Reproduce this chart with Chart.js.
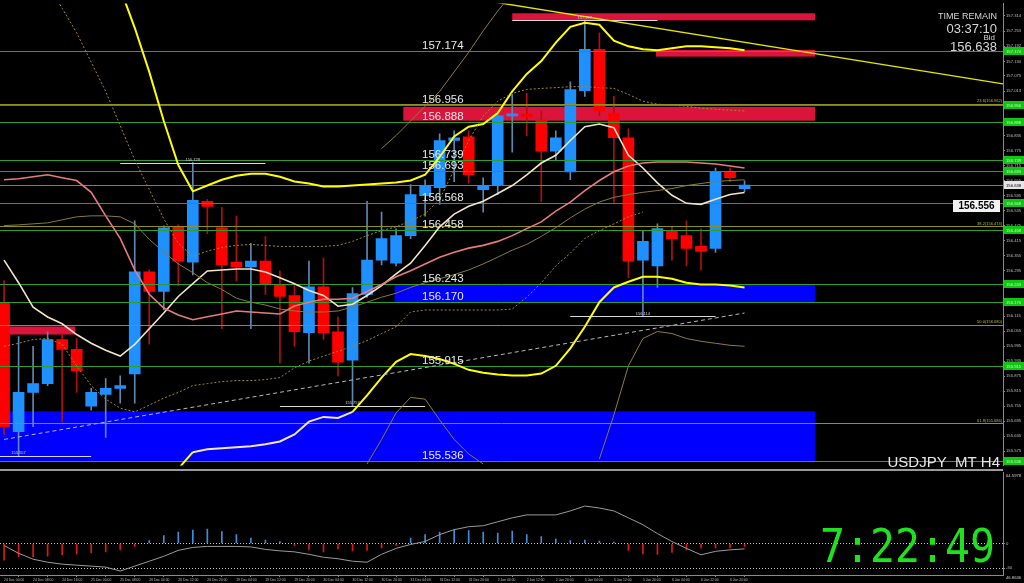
<!DOCTYPE html>
<html>
<head>
<meta charset="utf-8">
<title>USDJPY_MT H4</title>
<script src="https://cdn.jsdelivr.net/npm/chart.js@4.4.1/dist/chart.umd.min.js"></script>
<style>
  html,body{margin:0;padding:0;background:#000;overflow:hidden}
  #wrap{position:relative;width:1024px;height:583px}
  canvas{position:absolute;left:0}
  #main{top:0}
  #osc{top:469px}
</style>
</head>
<body>
<div id="wrap">
  <canvas id="main" width="1024" height="469"></canvas>
  <canvas id="osc" width="1024" height="114"></canvas>
</div>
<script>
// H4 candles, bar 0 = 24 Dec 00:00
const opens  = [156.170,155.653,155.810,155.845,156.021,155.982,155.755,155.802,155.826,155.884,
                156.291,156.213,156.471,156.330,156.573,156.467,156.330,156.311,156.334,156.240,
                156.197,156.048,156.232,156.052,155.939,156.201,156.338,156.326,156.436,156.596,
                156.628,156.816,156.831,156.620,156.640,156.914,156.921,156.898,156.773,156.690,
                157.015,157.180,156.925,156.827,156.338,156.315,156.456,156.436,156.393,156.385,
                156.690,156.624];
const highs  = [156.256,156.033,155.994,156.052,156.045,156.025,155.826,155.865,155.876,156.495,
                156.299,156.475,156.479,156.728,156.581,156.549,156.514,156.405,156.432,156.295,
                156.236,156.334,156.346,156.111,156.229,156.573,156.530,156.463,156.640,156.659,
                156.843,156.855,156.855,156.667,156.921,156.999,157.004,156.933,156.855,157.050,
                157.297,157.246,156.992,156.863,156.455,156.483,156.471,156.495,156.463,156.706,
                156.706,156.655];
const lows   = [155.642,155.557,155.673,155.837,155.692,155.810,155.739,155.630,155.767,155.767,
                156.002,156.139,156.236,156.279,156.444,156.064,156.256,156.064,156.201,155.927,
                155.994,155.927,156.021,155.876,155.757,156.189,156.319,156.315,156.424,156.514,
                156.561,156.651,156.647,156.530,156.600,156.769,156.835,156.573,156.737,156.659,
                156.992,156.914,156.569,156.268,156.114,156.229,156.338,156.315,156.299,156.369,
                156.651,156.612];
const closes = [155.673,155.810,155.845,156.021,155.982,155.896,155.810,155.826,155.837,156.291,
                156.213,156.467,156.334,156.577,156.553,156.319,156.311,156.334,156.240,156.193,
                156.052,156.232,156.048,155.931,156.205,156.338,156.424,156.436,156.600,156.636,
                156.816,156.827,156.679,156.636,156.914,156.921,156.910,156.773,156.827,157.019,
                157.180,156.933,156.827,156.334,156.413,156.464,156.424,156.385,156.373,156.690,
                156.667,156.638];

const creamMA = [156.338,156.248,156.150,156.111,156.084,156.041,156.006,155.978,155.955,156.002,
                 156.064,156.127,156.193,156.244,156.295,156.299,156.303,156.303,156.291,156.268,
                 156.244,156.217,156.197,156.154,156.162,156.197,156.236,156.283,156.326,156.397,
                 156.471,156.522,156.553,156.573,156.604,156.636,156.679,156.726,156.757,156.816,
                 156.871,156.882,156.867,156.757,156.706,156.647,156.597,156.565,156.561,156.581,
                 156.600,156.608];
const pinkMA  = [156.659,156.663,156.671,156.679,156.667,156.656,156.609,156.515,156.425,156.299,
                 156.202,156.147,156.119,156.100,156.112,156.123,156.135,156.131,156.127,156.123,
                 156.155,156.170,156.182,156.182,156.186,156.213,156.241,156.272,156.296,156.323,
                 156.350,156.370,156.386,156.397,156.413,156.436,156.464,156.491,156.534,156.570,
                 156.616,156.656,156.691,156.714,156.726,156.730,156.730,156.730,156.726,156.722,
                 156.714,156.706];
const oliveMA = [156.476,156.479,156.483,156.487,156.499,156.511,156.515,156.515,156.511,156.483,
                 156.421,156.370,156.323,156.288,156.248,156.221,156.186,156.170,156.159,156.143,
                 156.135,156.131,156.131,156.135,156.151,156.170,156.190,156.206,156.229,156.248,
                 156.264,156.280,156.299,156.323,156.350,156.378,156.401,156.433,156.468,156.507,
                 156.542,156.570,156.589,156.600,156.609,156.616,156.624,156.636,156.644,156.652,
                 156.656,156.659];
const upperBand = [null,null,null,null,null,null,null,null,157.423,157.266,
                   157.090,156.894,156.718,156.613,156.636,156.659,156.675,156.683,156.683,156.671,
                   156.652,156.644,156.632,156.632,156.636,156.640,156.644,156.648,156.656,156.679,
                   156.750,156.832,156.871,156.882,156.926,157.012,157.082,157.133,157.207,157.270,
                   157.286,157.278,157.215,157.192,157.180,157.176,157.184,157.192,157.192,157.188,
                   157.184,157.176];
const lowerBand = [null,null,null,null,null,null,null,null,null,null,
                   null,null,155.505,155.571,155.583,155.587,155.591,155.595,155.603,155.614,
                   155.642,155.693,155.712,155.708,155.732,155.798,155.869,155.932,155.963,155.955,
                   155.943,155.924,155.900,155.888,155.881,155.877,155.877,155.885,155.916,155.986,
                   156.072,156.170,156.229,156.252,156.272,156.272,156.264,156.248,156.241,156.241,
                   156.237,156.229];
const upperDotted = [null,null,null,157.442,157.344,157.246,157.129,157.012,156.875,156.738,
                     156.620,156.503,156.405,156.354,156.374,156.389,156.397,156.401,156.397,156.393,
                     156.393,156.393,156.393,156.397,156.413,156.436,156.456,156.471,156.495,156.522,
                     156.581,156.699,156.816,156.914,156.973,157.004,157.020,157.024,157.027,157.031,
                     157.031,157.027,157.024,157.000,156.973,156.961,156.957,156.953,156.945,156.941,
                     156.937,156.934];
const lowerDotted = [155.994,156.006,156.021,156.025,156.002,155.916,155.837,155.783,155.747,155.732,
                     155.759,155.787,155.810,155.837,155.845,155.853,155.857,155.857,155.861,155.869,
                     155.908,155.935,155.955,155.974,155.994,156.017,156.045,156.072,156.131,156.139,
                     156.139,156.139,156.139,156.139,156.139,156.143,156.190,156.248,156.315,156.366,
                     156.425,156.456,156.483,156.511,156.530,null,null,null,null,null,
                     null,null];
const thinA_start = 25, thinA = [155.524,155.622,155.728,155.790,155.783,155.700,155.622,155.564,155.524];
const thinB_start = 41, thinB = [155.544,155.720,155.916,156.025,156.053,156.045,156.025,156.014,156.006,155.998,155.994];
const thinC_start = 26, thinC = [156.784,156.836,156.894,156.953,157.012,157.090,157.168,157.254,157.333,157.403];
const dashBars = [0, 51],     dashPrices = [155.622, 156.127];
const trendBars = [30, 68.8], trendPrices = [157.404, 157.042];

const levelPrices = [157.174,156.956,156.888,156.739,156.693,156.568,156.458,156.243,156.170,155.915,155.536];
const fibRatios = ['23.6','38.2','50.0','61.8'];
const fibPrices = [156.962,156.474,156.080,155.686];
const swingBars = [13, 24, 44, 40, 1];
const swingPrices = [156.728, 155.757, 156.114, 157.297, 155.557];
const zoneFrom   = [35, 44.9, 27.5, -0.3, 26.9, -0.3];
const zoneTo     = [55.85, 55.85, 55.85, 4.9, 55.85, 55.85];
const zoneTop    = [157.324, 157.178, 156.950, 156.073, 156.243, 155.734];
const zoneBottom = [157.296, 157.151, 156.895, 156.041, 156.170, 155.536];
const zoneKind   = ['sell','sell','sell','sell','buy','buy'];
const bid = 156.638, markPrice = 156.556;

const priceTicks = ["157.314","157.253","157.192","157.130","157.075","157.013","156.953","156.893","156.835","156.775",
                    "156.715","156.655","156.595","156.535","156.475","156.415","156.355","156.295","156.235","156.175",
                    "156.115","156.055","155.995","155.935","155.875","155.815","155.755","155.695","155.635","155.575","155.515"];
const timeLabels = ["24 Dec 00:00","24 Dec 08:00","24 Dec 16:00","25 Dec 00:00","25 Dec 08:00","26 Dec 04:00","26 Dec 12:00",
                    "26 Dec 20:00","29 Dec 04:00","29 Dec 12:00","29 Dec 20:00","30 Dec 04:00","30 Dec 12:00","30 Dec 20:00",
                    "31 Dec 04:00","31 Dec 12:00","31 Dec 20:00","2 Jan 04:00","2 Jan 12:00","2 Jan 20:00","5 Jan 04:00",
                    "5 Jan 12:00","5 Jan 20:00","6 Jan 04:00","6 Jan 12:00","6 Jan 20:00"];

// oscillator window
const hist = [-34,-27,-27,-26,-23,-21,-19,-17,-13,-6, 6,16,23,27,29,24,18,11,7,4,
              -4,-13,-17,-11,-15,-14,-9,-4,11,18, 23,27,26,23,21,25,18,14,9,6,
              7,5,3,-14,-21,-22,-18,-13,-9,-9, -9,-6];
const signal = [-4,-20,-32,-38,-42,-44,-46,-48,-56,-46, -36,-26,-14,-8,-6,-6,-6,-7,-12,-15,
                -17,-22,-28,-31,-36,-38,-22,-10,-2,4, 18,28,34,36,44,52,58,58,58,66,
                76,72,66,52,38,20,4,-10,-23,-16, -13,-11];
const oscLevels = [0, -50];
const oscMax = "64.5978", oscMin = "46.8636";
const timer = "7:22:49";

Chart.defaults.font.family = '"Liberation Sans", Arial, sans-serif';

const UP = '#1e90ff', DN = '#ff0000', YEL = '#ffff00', CREAM = '#f3e4c4';
const bull = i => closes[i] >= opens[i];
const series = (vals, start = 0) => vals.map((v, k) => ({x: start + k, y: v}));
const pts = (bars, vals) => bars.map((b, k) => ({x: b, y: vals[k]}));

function line(data, color, w, extra){
  return Object.assign({type:'line', data, borderColor:color, borderWidth:w,
    pointRadius:0, tension:0, clip:0, order:1}, extra || {});
}

function hline(ctx, a, yy, color, dash){
  const py = Math.round(yy) + 0.5;
  ctx.strokeStyle = color; ctx.setLineDash(dash || []);
  ctx.beginPath(); ctx.moveTo(a.left, py); ctx.lineTo(a.right, py); ctx.stroke();
}

function tag(ctx, x0, yy, txt, bg, fg){
  ctx.fillStyle = bg; ctx.fillRect(x0, Math.round(yy) - 4, 21, 8);
  ctx.fillStyle = fg; ctx.fillText(txt, x0 + 2, Math.round(yy) + 0.5);
}

const mainDeco = {
  id:'mainDeco',
  beforeDatasetsDraw(c){
    const {ctx, chartArea:a, scales:{x, y}} = c;
    ctx.save();
    ctx.beginPath(); ctx.rect(a.left, a.top, a.right - a.left, a.bottom - a.top); ctx.clip();
    zoneFrom.forEach((b, k) => {
      const x0 = x.getPixelForValue(b), x1 = x.getPixelForValue(zoneTo[k]);
      const y0 = y.getPixelForValue(zoneTop[k]), y1 = y.getPixelForValue(zoneBottom[k]);
      ctx.fillStyle = zoneKind[k] === 'sell' ? '#dc143c' : '#0000ff';
      ctx.fillRect(x0, y0, x1 - x0, y1 - y0);
    });
    ctx.restore();
  },
  afterDatasetDraw(c, args){
    if(c.data.datasets[args.index].label !== 'body') return;
    const {ctx, chartArea:a, scales:{x, y}} = c;
    ctx.save(); ctx.lineWidth = 1;
    fibPrices.forEach(p => hline(ctx, a, y.getPixelForValue(p), '#8f8f22'));
    levelPrices.forEach(p => hline(ctx, a, y.getPixelForValue(p), '#2f9e2f'));
    hline(ctx, a, y.getPixelForValue(bid), '#7a7a7a');
    ctx.strokeStyle = '#d8d8d8'; ctx.setLineDash([]);
    swingBars.forEach((b, k) => {
      const py = Math.round(y.getPixelForValue(swingPrices[k])) + 0.5;
      ctx.beginPath();
      ctx.moveTo(Math.max(a.left, x.getPixelForValue(b - 5)), py);
      ctx.lineTo(x.getPixelForValue(b + 5), py);
      ctx.stroke();
    });
    ctx.restore();
  },
  afterDraw(c){
    const {ctx, chartArea:a, scales:{x, y}} = c;
    ctx.save();
    ctx.textBaseline = 'alphabetic';
    ctx.font = '11.5px "Liberation Sans"'; ctx.fillStyle = '#e8e8e8'; ctx.textAlign = 'left';
    levelPrices.forEach(p => ctx.fillText(p.toFixed(3), 422, Math.round(y.getPixelForValue(p)) - 2));

    ctx.font = '4px "Liberation Sans"'; ctx.fillStyle = '#d0d0d0'; ctx.textAlign = 'center';
    swingBars.forEach((b, k) => ctx.fillText(swingPrices[k].toFixed(3),
      Math.max(a.left + 10, x.getPixelForValue(b)), y.getPixelForValue(swingPrices[k]) - 1.5));

    ctx.textAlign = 'right'; ctx.fillStyle = '#b8b840';
    fibPrices.forEach((p, k) => ctx.fillText(fibRatios[k] + '(' + p.toFixed(3) + ')', a.right - 1, y.getPixelForValue(p) - 1.5));

    ctx.font = '4.2px "Liberation Sans"'; ctx.textAlign = 'left'; ctx.textBaseline = 'middle';
    levelPrices.forEach(p => tag(ctx, a.right + 1, y.getPixelForValue(p), p.toFixed(3), '#14c414', '#b6ffb6'));
    tag(ctx, a.right + 1, y.getPixelForValue(bid), bid.toFixed(3), '#e6e6e6', '#000');

    const my = Math.round(y.getPixelForValue(markPrice));
    ctx.fillStyle = '#f2f2f2'; ctx.fillRect(953, my - 6, 47, 12);
    ctx.fillStyle = '#000'; ctx.font = 'bold 10px "Liberation Sans"'; ctx.textAlign = 'center';
    ctx.fillText(markPrice.toFixed(3), 976.5, my + 0.5);

    ctx.textBaseline = 'alphabetic'; ctx.textAlign = 'right'; ctx.fillStyle = '#d6d6d6';
    ctx.font = '9px "Liberation Sans"';  ctx.fillText('TIME REMAIN', 997, 19);
    ctx.font = '13px "Liberation Sans"'; ctx.fillText('03:37:10', 997, 33);
    ctx.font = '8px "Liberation Sans"';  ctx.fillText('Bid', 995, 40);
    ctx.font = '13px "Liberation Sans"'; ctx.fillText(bid.toFixed(3), 997, 51);
    ctx.font = '15px "Liberation Sans"'; ctx.fillStyle = '#e6e6e6';
    ctx.fillText('USDJPY_MT H4', 1000, 467);
    ctx.restore();
  }
};

const oscDeco = {
  id:'oscDeco',
  beforeDatasetsDraw(c){
    const {ctx, chartArea:a, scales:{y}} = c;
    ctx.save(); ctx.lineWidth = 1;
    oscLevels.forEach(v => hline(ctx, a, y.getPixelForValue(v), '#c8c8c8', [1, 2]));
    ctx.restore();
  },
  afterDraw(c){
    const {ctx, chartArea:a} = c;
    ctx.save();
    ctx.fillStyle = '#9a9a9a'; ctx.fillRect(0, 0, a.right, 2);
    ctx.font = '4.2px "Liberation Sans"'; ctx.fillStyle = '#cfcfcf';
    ctx.textAlign = 'left'; ctx.textBaseline = 'middle';
    ctx.fillText(oscMax, a.right + 3, 7);
    ctx.fillText(oscMin, a.right + 3, 109);
    ctx.fillStyle = '#1fe21f'; ctx.font = '41.5px "DejaVu Sans Mono"';
    ctx.textAlign = 'right'; ctx.textBaseline = 'alphabetic';
    ctx.translate(995, 93); ctx.scale(1, 1.12); ctx.fillText(timer, 0, 0);
    ctx.restore();
  }
};

const xRange = {type:'linear', min:-0.28, max:68.8, offset:false};

new Chart(document.getElementById('main'), {
  type:'bar',
  data:{datasets:[
    {label:'wick', data:lows.map((l, i) => ({x:i, y:[l, highs[i]]})),
     backgroundColor:lows.map((_, i) => bull(i) ? '#5f87b0' : '#b01010'),
     barThickness:1, grouped:false, order:11},
    {label:'body', data:opens.map((o, i) => ({x:i, y:[o, closes[i]]})),
     backgroundColor:opens.map((_, i) => bull(i) ? UP : DN),
     barThickness:11, minBarLength:2, grouped:false, order:10},
    line(series(upperDotted), '#a08a2c', 1, {borderDash:[2, 2]}),
    line(series(lowerDotted), '#a08a2c', 1, {borderDash:[2, 2]}),
    line(series(thinA, thinA_start), '#8c7c3c', 1),
    line(series(thinB, thinB_start), '#8c7c3c', 1),
    line(series(thinC, thinC_start), '#8c7c3c', 1),
    line(pts(dashBars, dashPrices), '#b8b8b8', 1, {borderDash:[4, 3]}),
    line(series(oliveMA), '#8a7a36', 1),
    line(series(pinkMA), '#e57c7c', 1.6),
    line(series(creamMA), CREAM, 1.6),
    line(series(upperBand), YEL, 2),
    line(series(lowerBand), YEL, 2, {segment:{borderColor:s => (s.p0DataIndex >= 13 && s.p1DataIndex <= 24) ? CREAM : YEL}}),
    line(pts(trendBars, trendPrices), '#e6e600', 1.4)
  ]},
  options:{
    responsive:false, animation:false, devicePixelRatio:1, events:[],
    layout:{padding:0},
    plugins:{legend:{display:false}, tooltip:{enabled:false}},
    scales:{
      x:Object.assign({display:false}, xRange),
      y:{position:'right', min:155.518, max:157.363,
         afterFit(s){ s.width = 21; },
         afterBuildTicks(s){ s.ticks = priceTicks.map(t => ({value:parseFloat(t)})).filter(t => t.value >= s.min && t.value <= s.max); },
         ticks:{callback:v => v.toFixed(3), autoSkip:false, color:'#bdbdbd', font:{size:4.2}, padding:1},
         grid:{drawOnChartArea:false, tickLength:2, color:'#8a8a8a'},
         border:{color:'#8a8a8a'}}
    }
  },
  plugins:[mainDeco]
});

new Chart(document.getElementById('osc'), {
  type:'bar',
  data:{datasets:[
    {label:'hist', data:series(hist), backgroundColor:hist.map(v => v >= 0 ? '#3f8fd8' : '#e01818'),
     barThickness:1, grouped:false, order:2},
    line(series(signal), '#9a9a9a', 1)
  ]},
  options:{
    responsive:false, animation:false, devicePixelRatio:1, events:[],
    layout:{padding:{top:3}},
    plugins:{legend:{display:false}, tooltip:{enabled:false}},
    scales:{
      x:Object.assign({
         afterFit(s){ s.height = 8; },
         afterBuildTicks(s){ s.ticks = timeLabels.map((_, k) => ({value:k * 2})); },
         ticks:{callback:(v, i) => timeLabels[i], align:'start', maxRotation:0, autoSkip:false,
                color:'#bdbdbd', font:{size:3.4}, padding:1},
         grid:{drawOnChartArea:false, tickLength:2, color:'#8a8a8a'},
         border:{color:'#8a8a8a'}}, xRange),
      y:{position:'right', min:-64, max:144,
         afterFit(s){ s.width = 21; },
         afterBuildTicks(s){ s.ticks = oscLevels.map(v => ({value:v})); },
         ticks:{callback:v => String(v), autoSkip:false, color:'#bdbdbd', font:{size:4.2}, padding:1},
         grid:{drawOnChartArea:false, tickLength:2, color:'#8a8a8a'},
         border:{color:'#8a8a8a'}}
    }
  },
  plugins:[oscDeco]
});
</script>
</body>
</html>
